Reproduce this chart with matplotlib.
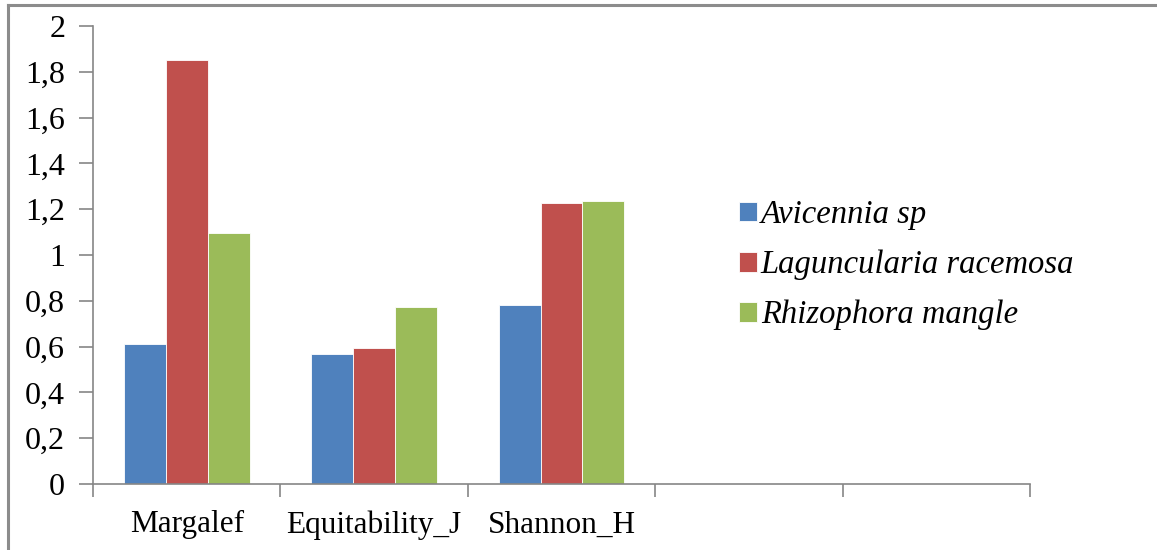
import matplotlib
matplotlib.use("Agg")
import matplotlib.pyplot as plt
from matplotlib.lines import Line2D
import numpy as np

# diversity indices per mangrove species
categories = ["Margalef", "Equitability_J", "Shannon_H", "", ""]
species = ["Avicennia sp", "Laguncularia racemosa", "Rhizophora mangle"]
avicennia = [0.61, 0.566, 0.783]
laguncularia = [1.851, 0.594, 1.226]
rhizophora = [1.097, 0.773, 1.236]
yticks = [0, 0.2, 0.4, 0.6, 0.8, 1.0, 1.2, 1.4, 1.6, 1.8, 2.0]
ytick_labels = ["0", "0,2", "0,4", "0,6", "0,8", "1", "1,2", "1,4", "1,6", "1,8", "2"]

colors = ["#4F81BD", "#C0504D", "#9BBB59"]
axis_grey = "#868686"
serif = "Liberation Serif"

W, H = 1157, 550
fig = plt.figure(figsize=(W / 100, H / 100), dpi=100)
fig.patch.set_facecolor("white")

# chart frame: only top and left edges show
fig.add_artist(Line2D([8 / W, 1.0], [1 - 5 / H, 1 - 5 / H], color="#8c8c8c", lw=2.2))
fig.add_artist(Line2D([8 / W, 8 / W], [0, 1 - 5 / H], color="#8c8c8c", lw=2.2))

left, right, top, bottom = 93, 1030, 26, 484
ax = fig.add_axes([left / W, (H - bottom) / H, (right - left) / W, (bottom - top) / H])

x = np.arange(len(categories))
width = 0.224
series = [avicennia, laguncularia, rhizophora]
for i, (vals, name, c) in enumerate(zip(series, species, colors)):
    xs = np.arange(len(vals)) + (i - 1) * width
    ax.bar(xs, vals, width=width, color=c, edgecolor="white", linewidth=0.6,
           label=name, zorder=2)

ax.set_xlim(-0.5, len(categories) - 0.5)
ax.set_ylim(0, 2)

for side in ["top", "right"]:
    ax.spines[side].set_visible(False)
for side in ["left", "bottom"]:
    ax.spines[side].set_color(axis_grey)
    ax.spines[side].set_linewidth(1.2)

ax.set_yticks(yticks)
ax.set_yticklabels(ytick_labels, fontfamily=serif, fontsize=23)
ax.tick_params(axis="y", direction="out", length=10, width=1.2, color=axis_grey, pad=10)

# boundaries as major ticks, names centred on minor ticks
ax.set_xticks(np.arange(-0.5, len(categories), 1.0))
ax.set_xticklabels([])
ax.tick_params(axis="x", which="major", direction="out", length=9, width=1.2, color=axis_grey)
ax.set_xticks(x, minor=True)
ax.set_xticklabels(categories, minor=True, fontfamily=serif, fontsize=22.5)
ax.tick_params(axis="x", which="minor", length=0, pad=19)

leg = ax.legend(loc="center left", bbox_to_anchor=(739 / W, 1 - 265 / H),
                bbox_transform=fig.transFigure, frameon=False,
                prop={"family": serif, "style": "italic", "size": 23.5},
                handlelength=0.55, handleheight=0.55, handletextpad=0.12,
                labelspacing=0.6, borderpad=0, borderaxespad=0)

fig.savefig("out.png", dpi=100)
